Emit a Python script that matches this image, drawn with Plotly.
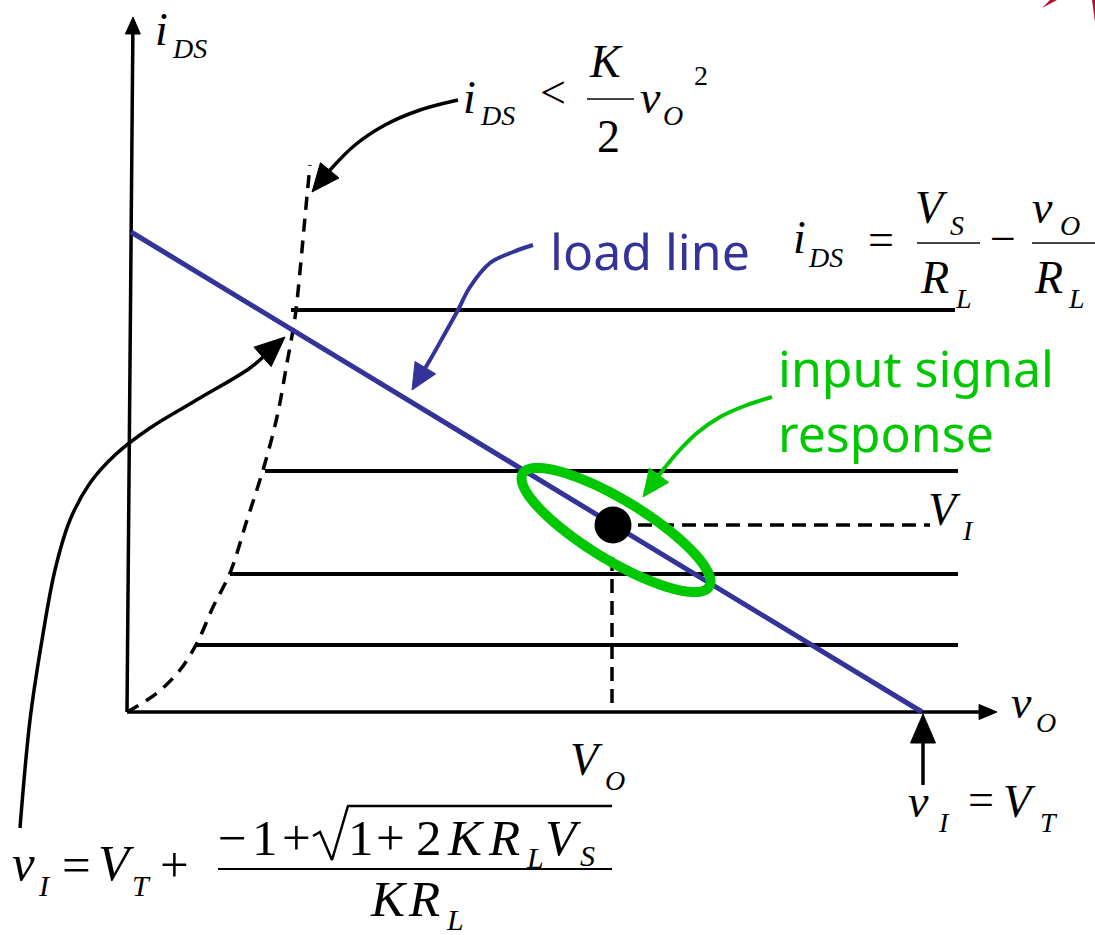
import numpy as np
import plotly.graph_objects as go

# Chart units: v_O along x, i_DS along y (1 unit = 100 px on the page)

# Saturation boundary i_DS = K/2 * v_O^2 (traced points)
boundary_vo = [0.00, 0.30, 0.53, 0.70, 0.86, 1.03, 1.20, 1.36, 1.50, 1.60, 1.66, 1.69, 1.75, 1.78, 1.83]
boundary_ids = [0.00, 0.19, 0.42, 0.69, 1.05, 1.39, 1.92, 2.42, 2.95, 3.49, 3.82, 4.02, 4.62, 4.95, 5.47]

# Saturated output characteristics (one per gate drive level)
curve_ids = [4.02, 2.41, 1.38, 0.67]
curve_start = [1.64, 1.38, 1.03, 0.69]
curve_end = [8.28, 8.31, 8.31, 8.31]

# Load line  i_DS = V_S/R_L - v_O/R_L
load_vo = [0.04, 7.95]
load_ids = [4.80, 0.00]

# Quiescent operating point and small-signal swing
q_vo, q_ids = 4.86, 1.87
vi_line_end = 8.03
swing_center = (4.89, 1.82)
swing_semi = (1.09, 0.30)

# Axes
yaxis_vo, yaxis_ids = [0.00, 0.06], [0.00, 6.95]
xaxis_vo, xaxis_ids = [0.00, 8.70], [0.00, 0.00]
cutoff_vo = 7.96
cutoff_ids = [-0.73, -0.02]

# Callout arrow paths (tail ... tip)
arrow_boundary = [(3.31, 6.12), (2.93, 6.02), (2.58, 5.87), (2.28, 5.67), (2.03, 5.42), (1.85, 5.20)]
arrow_load = [(4.06, 4.67), (3.86, 4.60), (3.63, 4.49), (3.43, 4.25), (3.31, 4.02),
              (3.16, 3.75), (3.03, 3.52), (2.85, 3.22)]
arrow_signal = [(6.45, 3.15), (6.20, 3.07), (5.93, 2.95), (5.70, 2.79), (5.50, 2.59),
                (5.36, 2.42), (5.16, 2.15)]
arrow_vi = [(-1.07, -1.16), (-0.97, -0.08), (-0.85, 0.72), (-0.72, 1.42), (-0.57, 1.92),
            (-0.37, 2.29), (-0.12, 2.57), (0.23, 2.84), (0.73, 3.14), (1.23, 3.44), (1.58, 3.75)]

# Radical sign of the threshold formula (tick, down stroke, up stroke, vinculum)
radical_x = [1.86, 1.93, 2.05, 2.21, 4.85]
radical_y = [-1.24, -1.20, -1.48, -0.94, -0.94]

BLACK = "#000000"
BLUE = "#333399"
GREEN = "#00C800"
SERIF = "Liberation Serif, Times New Roman, serif"
SANS = "Noto Sans, Open Sans, sans-serif"

fig = go.Figure()


def line(xs, ys, color=BLACK, width=3.5, dash=None, shape="linear"):
    fig.add_trace(go.Scatter(x=xs, y=ys, mode="lines", hoverinfo="skip",
                             line=dict(color=color, width=width, dash=dash, shape=shape,
                                       simplify=False)))


def head(tip, prev, length, half, color=BLACK):
    tip = np.asarray(tip, float)
    prev = np.asarray(prev, float)
    d = (tip - prev) / np.linalg.norm(tip - prev)
    n = np.array([-d[1], d[0]])
    base = tip - length * d
    pts = np.array([tip, base + half * n, base - half * n, tip])
    fig.add_trace(go.Scatter(x=pts[:, 0], y=pts[:, 1], mode="lines", fill="toself",
                             fillcolor=color, line=dict(color=color, width=1), hoverinfo="skip"))
    return base


def arrow(path, color=BLACK, width=3.5, length=0.27, half=0.12):
    pts = np.asarray(path, float)
    base = head(pts[-1], pts[-2], length, half, color)
    shaft = np.vstack([pts[:-1], base + (pts[-1] - base) * 0.3])
    line(shaft[:, 0], shaft[:, 1], color=color, width=width, shape="spline")


# axes with arrowheads
yb = head((yaxis_vo[1], yaxis_ids[1]), (yaxis_vo[0], yaxis_ids[0]), 0.17, 0.075)
line([yaxis_vo[0], yb[0]], [yaxis_ids[0], yb[1]], width=3.5)
xb = head((xaxis_vo[1], xaxis_ids[1]), (xaxis_vo[0], xaxis_ids[0]), 0.18, 0.075)
line([xaxis_vo[0], xb[0]], [xaxis_ids[0], xb[1]], width=3.5)

# output characteristics
for i_s, v0, v1 in zip(curve_ids, curve_start, curve_end):
    line([v0, v1], [i_s, i_s], width=4)

# saturation boundary
line(boundary_vo, boundary_ids, width=3.5, dash="13px,9px", shape="spline")

# operating point projections
line([q_vo + 0.25, vi_line_end], [q_ids, q_ids], width=3.5, dash="14px,8px")
line([q_vo - 0.01, q_vo - 0.01], [q_ids - 0.32, 0], width=3.5, dash="14px,8px")

# load line
line(load_vo, load_ids, color=BLUE, width=5)

# signal swing ellipse along the load line
theta = np.arctan2(load_ids[1] - load_ids[0], load_vo[1] - load_vo[0])
t = np.linspace(0, 2 * np.pi, 361)
a, b = swing_semi
ex = swing_center[0] + a * np.cos(t) * np.cos(theta) - b * np.sin(t) * np.sin(theta)
ey = swing_center[1] + a * np.cos(t) * np.sin(theta) + b * np.sin(t) * np.cos(theta)
line(ex, ey, color=GREEN, width=10)

# operating point
fig.add_trace(go.Scatter(x=[q_vo], y=[q_ids], mode="markers", hoverinfo="skip",
                         marker=dict(color=BLACK, size=37, line=dict(width=0))))

# cutoff arrow (v_I = V_T)
cb = head((cutoff_vo, cutoff_ids[1]), (cutoff_vo, cutoff_ids[0]), 0.29, 0.125)
line([cutoff_vo, cutoff_vo], [cutoff_ids[0], cb[1]], width=3.5)

# callout arrows
arrow(arrow_boundary, BLACK, 3.5, 0.28, 0.12)
arrow(arrow_load, BLUE, 4, 0.26, 0.12)
arrow(arrow_signal, GREEN, 4, 0.27, 0.12)
arrow(arrow_vi, BLACK, 3.5, 0.30, 0.13)


def put(x, y, s, size=46, italic=True, color=BLACK, family=SERIF, base=0.34):
    """Place text with its left edge at x and its baseline at y."""
    txt = f"<i>{s}</i>" if italic else s
    fig.add_annotation(x=x - 0.02, y=y + base * size / 100, xref="x", yref="y", text=txt,
                       showarrow=False, xanchor="left", yanchor="middle",
                       font=dict(size=size, color=color, family=family))


def bar(x0, x1, y, color="#444444", width=2):
    fig.add_shape(type="line", x0=x0, x1=x1, y0=y, y1=y, xref="x", yref="y",
                  line=dict(color=color, width=width))


# axis titles
put(0.28, 6.67, "i")
put(0.45, 6.54, "DS", 28)
put(8.84, -0.06, "v")
put(9.09, -0.20, "O", 28)

# i_DS < K/2 v_O^2
put(3.36, 5.99, "i")
put(3.53, 5.87, "DS", 28)
put(4.13, 6.04, "&lt;", italic=False)
put(4.62, 6.35, "K")
bar(4.60, 5.07, 6.13)
put(4.70, 5.60, "2", italic=False)
put(5.13, 5.99, "v")
put(5.36, 5.87, "O", 28)
put(5.67, 6.27, "2", 28, italic=False)

# i_DS = V_S/R_L - v_O/R_L
put(6.66, 4.59, "i")
put(6.81, 4.45, "DS", 28)
put(7.41, 4.57, "=", italic=False)
bar(7.90, 8.53, 4.69)
put(7.88, 4.89, "V")
put(8.23, 4.77, "S", 28)
put(7.93, 4.19, "R")
put(8.28, 4.04, "L", 28)
put(8.63, 4.58, "−", italic=False)
bar(9.05, 9.68, 4.69)
put(9.05, 4.89, "v")
put(9.33, 4.77, "O", 28)
put(9.07, 4.19, "R")
put(9.41, 4.04, "L", 28)

# v_I = V_T + (-1 + sqrt(1 + 2 K R_L V_S)) / (K R_L)
put(-1.15, -1.68, "v", 51)
put(-0.89, -1.84, "I", 30)
put(-0.65, -1.70, "=", 51, italic=False)
put(-0.29, -1.68, "V", 51)
put(0.05, -1.84, "T", 30)
put(0.33, -1.70, "+", 51, italic=False)
bar(0.91, 4.85, -1.57, color=BLACK, width=2)
put(0.91, -1.43, "−", 51, italic=False)
put(1.25, -1.43, "1", 51, italic=False)
put(1.55, -1.43, "+", 51, italic=False)
line(radical_x, radical_y, width=2.5)
put(2.21, -1.43, "1", 51, italic=False)
put(2.49, -1.43, "+", 51, italic=False)
put(2.89, -1.43, "2", 51, italic=False)
put(3.20, -1.43, "K", 51)
put(3.61, -1.43, "R", 51)
put(3.99, -1.56, "L", 30)
put(4.18, -1.43, "V", 51)
put(4.53, -1.54, "S", 30)
put(2.43, -2.04, "K", 51)
put(2.81, -2.04, "R", 51)
put(3.19, -2.18, "L", 30)

# cutoff label
put(7.81, -1.05, "v")
put(8.11, -1.20, "I", 28)
put(8.41, -1.03, "=", italic=False)
put(8.76, -1.05, "V")
put(9.13, -1.20, "T", 28)

# operating point labels
put(4.43, -0.63, "V")
put(4.78, -0.78, "O", 28)
put(8.01, 1.87, "V")
put(8.35, 1.72, "I", 28)

# callout captions
put(4.23, 4.42, "load line", 50, italic=False, color=BLUE, family=SANS, base=0.39)
put(6.51, 3.25, "input signal", 50, italic=False, color=GREEN, family=SANS, base=0.39)
put(6.51, 2.60, "response", 50, italic=False, color=GREEN, family=SANS, base=0.39)

# decorative corner fragments
for path in ["M 0.9516 0.9914 L 0.9589 1 L 0.9653 1 Z",
             "M 0.9973 1 L 1 1 L 1 0.9765 Z"]:
    fig.add_shape(type="path", path=path, xref="paper", yref="paper",
                  fillcolor="#B01030", line=dict(width=0))

fig.update_layout(
    width=1095, height=935, margin=dict(l=0, r=0, t=0, b=0),
    paper_bgcolor="white", plot_bgcolor="white", showlegend=False, hovermode=False,
    xaxis=dict(visible=False, range=[-1.27, 9.68], fixedrange=True),
    yaxis=dict(visible=False, range=[-2.23, 7.12], fixedrange=True),
)

fig.write_html("out.html", config={"displayModeBar": False})
